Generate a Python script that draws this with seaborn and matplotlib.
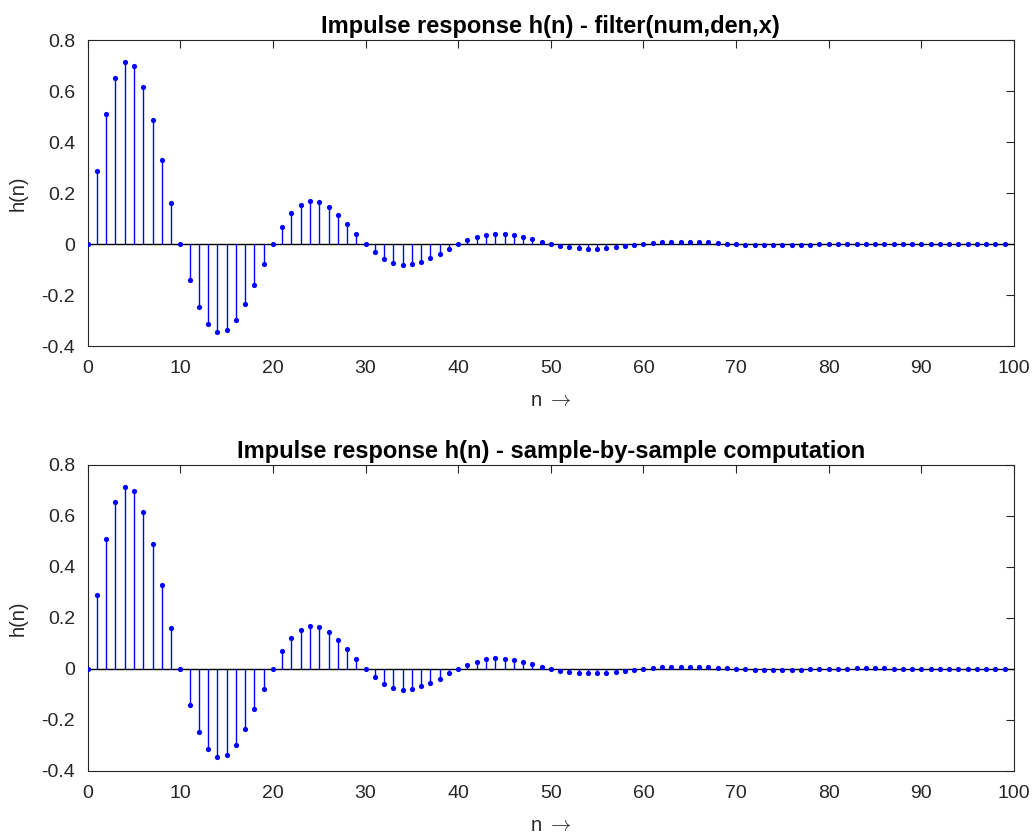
import numpy as np
import pandas as pd
import matplotlib
matplotlib.use("Agg")
import matplotlib.pyplot as plt
import seaborn as sns

# Impulse response samples h(n), n = 0..99
h_values = [
    0.000, 0.288, 0.508, 0.652, 0.712, 0.697, 0.616, 0.488, 0.329, 0.161,
    0.000, -0.140, -0.246, -0.315, -0.345, -0.337, -0.298, -0.237, -0.159, -0.077,
    0.000, 0.068, 0.120, 0.154, 0.167, 0.163, 0.145, 0.115, 0.078, 0.038,
    0.000, -0.033, -0.058, -0.075, -0.081, -0.080, -0.069, -0.056, -0.038, -0.018,
    0.000, 0.016, 0.027, 0.037, 0.041, 0.039, 0.034, 0.027, 0.018, 0.009,
    0.000, -0.008, -0.013, -0.017, -0.018, -0.018, -0.016, -0.013, -0.009, -0.005,
    0.000, 0.004, 0.006, 0.008, 0.009, 0.009, 0.008, 0.006, 0.004, 0.002,
    0.000, -0.002, -0.003, -0.004, -0.004, -0.004, -0.004, -0.003, -0.002, -0.001,
    0.000, 0.001, 0.001, 0.002, 0.002, 0.002, 0.002, 0.001, 0.001, 0.0005,
    0.000, -0.0004, -0.0007, -0.0009, -0.001, -0.001, -0.0009, -0.0007, -0.0004, -0.0002,
]
n_values = list(range(len(h_values)))

titles = [
    "Impulse response h(n) - filter(num,den,x)",
    "Impulse response h(n) - sample-by-sample computation",
]
x_ticks = [0, 10, 20, 30, 40, 50, 60, 70, 80, 90, 100]
y_ticks = [-0.4, -0.2, 0, 0.2, 0.4, 0.6, 0.8]
y_tick_labels = ["-0.4", "-0.2", "0", "0.2", "0.4", "0.6", "0.8"]

sns.set_theme(style="white")
plt.rcParams["font.family"] = ["Liberation Sans", "DejaVu Sans"]
plt.rcParams["axes.unicode_minus"] = False
plt.rcParams["mathtext.fontset"] = "cm"

df = pd.DataFrame({"n": n_values, "h": h_values})

fig = plt.figure(figsize=(10.35, 8.36), dpi=100)
axes_boxes = [
    [0.0847, 0.5861, 0.8950, 0.3660],
    [0.0847, 0.0778, 0.8950, 0.3664],
]
axis_color = "#262626"

for box, title in zip(axes_boxes, titles):
    ax = fig.add_axes(box)
    ax.axhline(0, color="black", lw=1.0, zorder=1)
    ax.vlines(df["n"], 0, df["h"], color="#0000ff", lw=1.0, zorder=2)
    sns.scatterplot(data=df, x="n", y="h", ax=ax, color="#0000ff",
                    s=14, edgecolor="#0000ff", linewidth=0, zorder=3,
                    legend=False)
    ax.set_xlim(0, 100)
    ax.set_ylim(-0.4, 0.8)
    ax.set_xticks(x_ticks)
    ax.set_xticklabels([str(t) for t in x_ticks])
    ax.set_yticks(y_ticks)
    ax.set_yticklabels(y_tick_labels)
    ax.tick_params(direction="in", length=6, width=0.8, colors=axis_color,
                   labelsize=14, top=True, right=True)
    ax.tick_params(axis="x", pad=10)
    ax.tick_params(axis="y", pad=9)
    for spine in ax.spines.values():
        spine.set_visible(True)
        spine.set_color(axis_color)
        spine.set_linewidth(0.8)
    ax.set_title(title, fontsize=17, fontweight="bold", color="black", pad=5)
    ax.set_xlabel(r"n $\rightarrow$", fontsize=14.5, color=axis_color, labelpad=10)
    ax.set_ylabel("h(n)", fontsize=14.5, color=axis_color, labelpad=10)

fig.savefig("out.png", dpi=100)
